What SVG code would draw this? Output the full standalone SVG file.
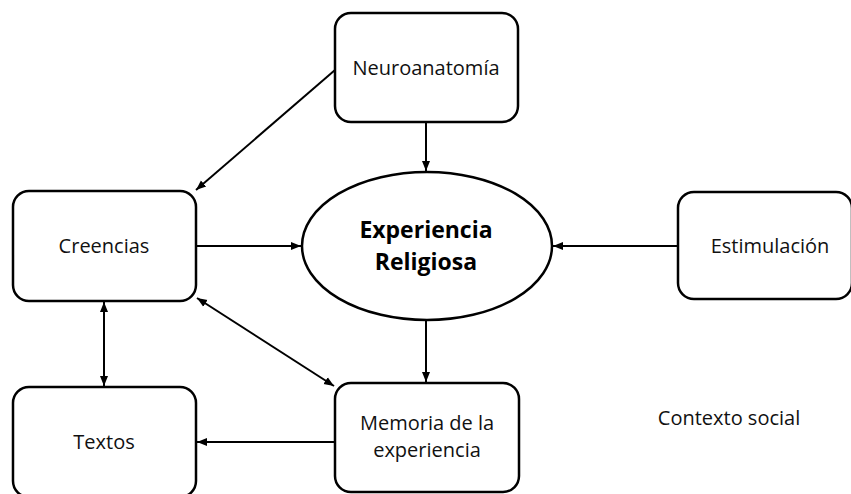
<svg xmlns="http://www.w3.org/2000/svg" width="851" height="494" viewBox="0 0 851 494">
<style>
.box{fill:#fff;stroke:#000;stroke-width:2.5}
.t{font-family:"Open Sans","Liberation Sans",sans-serif;font-size:20px;fill:#111;text-anchor:middle}
.b{font-family:"Open Sans","Liberation Sans",sans-serif;font-size:23px;font-weight:bold;fill:#000;text-anchor:middle}
.c{fill:none;stroke:#000;stroke-width:2}
</style>
<defs>
<marker id="ah" viewBox="0 0 10 10" refX="10" refY="5" markerWidth="5" markerHeight="5" orient="auto-start-reverse" markerUnits="strokeWidth">
<path d="M0,1 L10,5 L0,9 Z" fill="#000"/>
</marker>
</defs>
<rect width="851" height="494" fill="#fff"/>
<g id="connectors">
<line class="c" x1="426" y1="122" x2="426" y2="171" marker-end="url(#ah)"/>
<line class="c" x1="335" y1="70" x2="196" y2="190" marker-end="url(#ah)"/>
<line class="c" x1="196" y1="246" x2="301" y2="246" marker-end="url(#ah)"/>
<line class="c" x1="678" y1="246" x2="553" y2="246" marker-end="url(#ah)"/>
<line class="c" x1="426" y1="320" x2="426" y2="382" marker-end="url(#ah)"/>
<line class="c" x1="104" y1="302" x2="104" y2="386" marker-start="url(#ah)" marker-end="url(#ah)"/>
<line class="c" x1="197" y1="298" x2="334" y2="386" marker-start="url(#ah)" marker-end="url(#ah)"/>
<line class="c" x1="335" y1="442" x2="197" y2="442" marker-end="url(#ah)"/>
</g>
<g id="neuroanatomia">
<rect class="box" x="335" y="13" width="183" height="109" rx="16"/>
<text class="t" x="426" y="75">Neuroanatomía</text>
</g>
<g id="creencias">
<rect class="box" x="13" y="191" width="183" height="110" rx="16"/>
<text class="t" x="104" y="253">Creencias</text>
</g>
<g id="experiencia">
<ellipse class="box" cx="427" cy="246" rx="125" ry="74"/>
<text class="b" x="426" y="238">Experiencia</text>
<text class="b" x="426" y="270">Religiosa</text>
</g>
<g id="estimulacion">
<rect class="box" x="678" y="192" width="174" height="107" rx="16"/>
<text class="t" x="770" y="253">Estimulación</text>
</g>
<g id="memoria">
<rect class="box" x="335" y="383" width="184" height="109" rx="16"/>
<text class="t" x="427" y="430">Memoria de la</text>
<text class="t" x="427" y="457">experiencia</text>
</g>
<g id="textos">
<rect class="box" x="13" y="387" width="183" height="110" rx="16"/>
<text class="t" x="104" y="449">Textos</text>
</g>
<g id="contexto">
<text class="t" x="729" y="425">Contexto social</text>
</g>
</svg>
